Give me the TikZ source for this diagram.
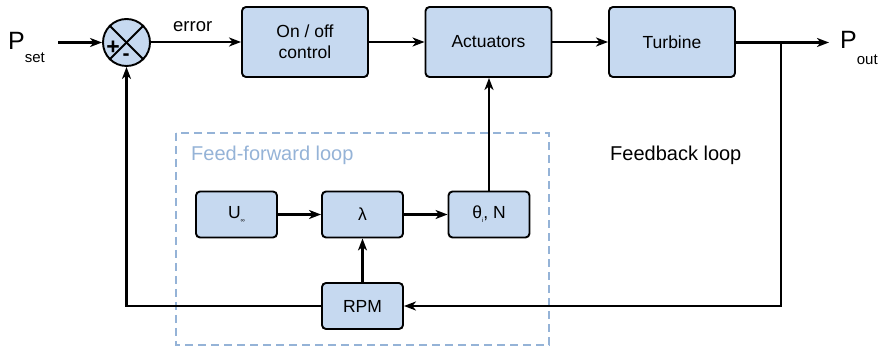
\documentclass[tikz,border=0pt]{standalone}
\usepackage{fontspec}
\setmainfont{Liberation Sans}
\usetikzlibrary{arrows.meta,calc}
\definecolor{boxblue}{RGB}{198,217,240}
\definecolor{loopblue}{RGB}{149,179,215}
\begin{document}
\begin{tikzpicture}[x=1pt,y=-1pt,
  blk/.style={draw=black, fill=boxblue, rounded corners=4pt, line width=1.9pt,
    minimum width=126pt, minimum height=70pt, inner sep=0pt, align=center,
    font=\fontsize{17.5}{21}\selectfont},
  sblk/.style={blk, minimum width=81pt, minimum height=46pt},
  conn/.style={line width=2.5pt, -{Stealth[length=12pt,width=9pt,inset=3.5pt]}},
  lbl/.style={inner sep=0pt, anchor=base west},
]
\useasboundingbox (0,0) rectangle (884,347);

% feed-forward dashed frame
\draw[loopblue, line width=1.6pt, dash pattern=on 8pt off 5pt] (176,133) rectangle (549,345);
\node[lbl, text=loopblue, font=\fontsize{20}{24}\selectfont] (fflbl) at (191,161) {Feed-forward loop};
\node[lbl, font=\fontsize{20}{24}\selectfont] (fblbl) at (610,161) {Feedback loop};

% main blocks
\node[blk] (onoff) at (305,42) {On / off\\control};
\node[blk] (act) at (488.5,42) {Actuators};
\node[blk] (turb) at (672,42) {Turbine};

% summing junction
\node[draw=black, fill=boxblue, circle, line width=1.9pt, minimum size=47pt, inner sep=0pt] (sum) at (126.5,42.5) {};
\draw[line width=1.9pt] (sum.north west) -- (sum.south east);
\draw[line width=1.9pt] (sum.north east) -- (sum.south west);
\node[inner sep=0pt, font=\fontsize{23}{23}\selectfont\bfseries] (plus) at (113,47.5) {+};
\node[inner sep=0pt, font=\fontsize{21}{21}\selectfont\bfseries] (minus) at (126,57) {-};

% feed-forward blocks
\node[sblk] (uinf) at (236.5,214.5) {U\raisebox{-4pt}{\fontsize{6}{6}\selectfont ∞}};
\node[sblk] (lam) at (362.5,214.5) {λ};
\node[sblk] (theta) at (489,214.5) {θ\raisebox{-4pt}{\fontsize{6}{6}\selectfont i}, N};
\node[sblk] (rpm) at (362.5,306) {RPM};

% input / output labels
\node[lbl, font=\fontsize{25}{25}\selectfont] (pset) at (8,50) {P\raisebox{-13pt}{\fontsize{15}{15}\selectfont set}};
\node[lbl, font=\fontsize{25}{25}\selectfont] (pout) at (840,49) {P\raisebox{-16pt}{\fontsize{15}{15}\selectfont out}};
\node[lbl, font=\fontsize{18.5}{20}\selectfont] (err) at (173,32) {error};

\coordinate (in) at (58,42.5);
\coordinate (outend) at (829,42.5);
\coordinate (br) at (781,42.5);

% connectors
\draw[conn] (in) -- (in -| sum.west);
\draw[conn] (sum.east |- onoff.west) -- (onoff.west);
\draw[conn] (onoff.east) -- (act.west);
\draw[conn] (act.east) -- (turb.west);
\draw[conn] (turb.east |- outend) -- (outend);
\draw[conn] (br) |- (rpm.east);
\draw[conn] (rpm.west) -| (sum.south);
\draw[conn] (rpm.north) -- (lam.south);
\draw[conn] (uinf.east) -- (lam.west);
\draw[conn] (lam.east) -- (theta.west);
\draw[conn] (theta.north) -- (theta.north |- act.south);
\end{tikzpicture}
\end{document}
